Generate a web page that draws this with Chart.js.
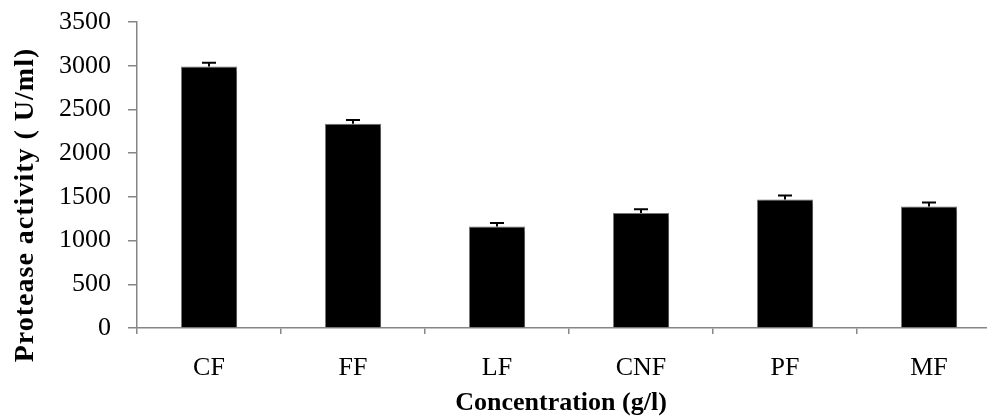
<!DOCTYPE html>
<html>
<head>
<meta charset="utf-8">
<script src="https://cdn.jsdelivr.net/npm/chart.js@4/dist/chart.umd.min.js"></script>
<style>
  html, body { margin: 0; padding: 0; background: #fff; overflow: hidden; }
  #wrap { width: 1001px; height: 419px; position: relative; }
</style>
</head>
<body>
<div id="wrap"><canvas id="myChart"></canvas></div>
<script>
// data
const categories = ["CF", "FF", "LF", "CNF", "PF", "MF"];
const activity = [2990, 2335, 1160, 1315, 1470, 1390];
const errors = [45, 45, 40, 43, 45, 45];
const yTicks = [0, 500, 1000, 1500, 2000, 2500, 3000, 3500];

const yTitle = "Protease activity ( U/ml)";
const xTitle = "Concentration (g/l)";

const axisGrey = "#868686";
const serif = "'Liberation Serif', 'Times New Roman', serif";

// soft shadow under the bars
const barShadow = {
    id: 'barShadow',
    beforeDatasetsDraw(chart) {
        const ctx = chart.ctx;
        ctx.save();
        ctx.shadowColor = 'rgba(0,0,0,0.35)';
        ctx.shadowBlur = 4;
        ctx.shadowOffsetX = 3;
        ctx.shadowOffsetY = 2;
    },
    afterDatasetsDraw(chart) {
        chart.ctx.restore();
    }
};

// error bars drawn with the y scale
const errorBars = {
    id: 'errorBars',
    afterDatasetsDraw(chart) {
        const ctx = chart.ctx;
        const yScale = chart.scales.y;
        const meta = chart.getDatasetMeta(0);
        ctx.save();
        ctx.strokeStyle = '#000';
        ctx.lineWidth = 2;
        meta.data.forEach((bar, i) => {
            const x = bar.x;
            const yTop = yScale.getPixelForValue(activity[i] + errors[i]);
            const yVal = yScale.getPixelForValue(activity[i]);
            ctx.beginPath();
            ctx.moveTo(x, yVal);
            ctx.lineTo(x, yTop);
            ctx.moveTo(x - 7, yTop);
            ctx.lineTo(x + 7, yTop);
            ctx.stroke();
        });
        ctx.restore();
    }
};

// axis titles
const axisTitles = {
    id: 'axisTitles',
    afterDraw(chart) {
        const ctx = chart.ctx;
        const area = chart.chartArea;
        ctx.save();
        ctx.fillStyle = '#000';
        ctx.textAlign = 'center';
        ctx.textBaseline = 'alphabetic';
        ctx.font = "bold 26px " + serif;
        ctx.fillText(xTitle, 561, 410);
        ctx.font = "bold 28px " + serif;
        ctx.letterSpacing = '1px';
        ctx.translate(33, (area.top + area.bottom) / 2 + 30);
        ctx.rotate(-Math.PI / 2);
        ctx.fillText(yTitle, 0, 0);
        ctx.restore();
    }
};

const ctx = document.getElementById('myChart').getContext('2d');
const myChart = new Chart(ctx, {
    type: 'bar',
    data: {
        labels: categories,
        datasets: [{
            data: activity,
            backgroundColor: '#000',
            borderColor: '#7a7a7a',
            borderWidth: 1,
            categoryPercentage: 1,
            barPercentage: 0.39
        }]
    },
    options: {
        responsive: true,
        maintainAspectRatio: false,
        animation: false,
        devicePixelRatio: 1,
        layout: { padding: { top: 22, left: 0, right: 0, bottom: 0 } },
        plugins: {
            legend: { display: false },
            tooltip: { enabled: false }
        },
        scales: {
            x: {
                grid: {
                    offset: true,
                    drawOnChartArea: false,
                    drawTicks: true,
                    tickLength: 6,
                    color: axisGrey,
                    lineWidth: 1.5
                },
                border: { color: axisGrey, width: 1.5 },
                ticks: {
                    color: '#000',
                    font: { family: serif, size: 26 },
                    padding: 19
                },
                afterFit(scale) {
                    scale.height = 91;
                    scale.paddingLeft = 0;
                    scale.paddingRight = 0;
                }
            },
            y: {
                min: 0,
                max: 3500,
                afterBuildTicks(scale) {
                    scale.ticks = yTicks.map(v => ({ value: v }));
                },
                grid: {
                    drawOnChartArea: false,
                    drawTicks: true,
                    tickLength: 9,
                    color: axisGrey,
                    lineWidth: 1.5
                },
                border: { color: axisGrey, width: 1.5 },
                ticks: {
                    color: '#000',
                    font: { family: serif, size: 26 },
                    padding: 17,
                    callback: v => String(v)
                },
                afterFit(scale) {
                    scale.width = 137;
                    scale.paddingTop = 0;
                    scale.paddingBottom = 0;
                }
            }
        }
    },
    plugins: [barShadow, errorBars, axisTitles]
});
</script>
</body>
</html>
